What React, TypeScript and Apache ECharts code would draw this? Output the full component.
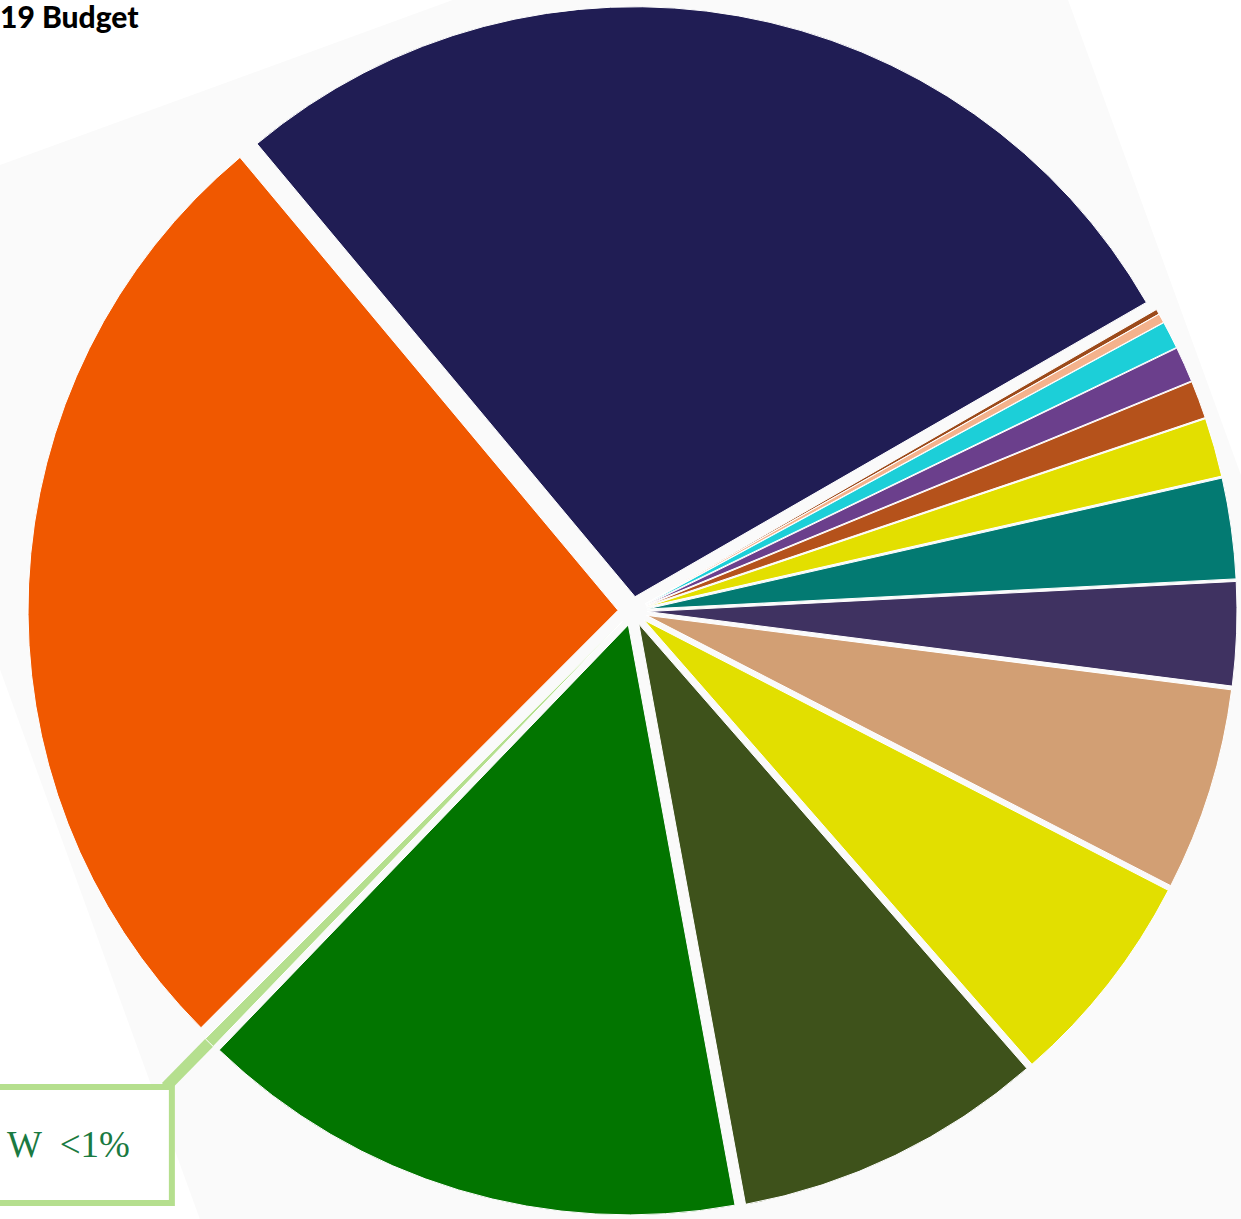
import React, { useEffect, useRef } from "react";
import * as echarts from "echarts";

const titleText = "19 Budget";
const categories = [
  "Slice A", "Slice B", "Slice C", "Slice D", "Slice E", "Slice F", "Slice G", "Slice H",
  "Slice I", "Slice J", "Slice K", "Slice L", "Slice M", "W", "Slice O",
];
const values = [27.76, 0.14, 0.25, 0.75, 0.97, 1.03, 1.61, 2.75, 2.83, 5.56, 6.0, 8.53, 15.09, 0.3, 26.44];
const colors = [
  "#201d54", "#9c4a1a", "#f4b28c", "#1ccfd8", "#6b3f8c", "#b5521b", "#e3df00", "#037a72",
  "#3f3261", "#d29f74", "#e2df00", "#3e521b", "#027500", "#b5df8e", "#f05800",
];
const labelIndex = 13;
const labelText = "W  <1%";

export default function App() {
  const ref = useRef<HTMLDivElement>(null);
  useEffect(() => {
    if (!ref.current) return;
    const chart = echarts.init(ref.current, null, { renderer: "svg" });
    const data = categories.map((name, i) => {
      const item: any = {
        name,
        value: values[i],
        selected: true,
        itemStyle: { color: colors[i] },
        label: { show: false },
        labelLine: { show: false },
      };
      if (i === labelIndex) {
        item.label = {
          show: true,
          position: "outside",
          distanceToLabelLine: -3,
          formatter: "{sp| }\n{box|" + labelText + "}",
          rich: {
            sp: { height: 116, fontSize: 2, lineHeight: 116 },
            box: {
              width: 230,
              height: 110,
              lineHeight: 110,
              align: "right",
              padding: [0, 39, 0, 0],
              borderColor: "#b5df8e",
              borderWidth: 6,
              backgroundColor: "#ffffff",
              fontFamily: "Liberation Serif",
              fontSize: 37,
              color: "#1a7a42",
            },
          },
        };
        item.labelLine = {
          show: true,
          length: 62,
          length2: 0,
          smooth: false,
          lineStyle: { color: "#b5df8e", width: 11 },
        };
      }
      return item;
    });
    chart.setOption({
      animation: false,
      backgroundColor: "#ffffff",
      title: {
        text: titleText,
        left: 0,
        top: 1,
        padding: 0,
        textStyle: { fontFamily: "Lato", fontSize: 30, fontWeight: 900, color: "#000000" },
      },
      graphic: [
        {
          type: "polygon",
          z: -10,
          silent: true,
          shape: { points: [[-162, 224], [996, -198], [1614, 1500], [302, 1500]] },
          style: { fill: "#fafafa" },
        },
      ],
      series: [
        {
          type: "pie",
          name: "budget",
          center: [632.5, 611],
          radius: [0, 590],
          startAngle: 129.85,
          clockwise: true,
          avoidLabelOverlap: false,
          selectedMode: "multiple",
          selectedOffset: 14.5,
          emphasis: { disabled: true },
          silent: true,
          itemStyle: { borderColor: "#ffffff", borderWidth: 1 },
          select: { itemStyle: { borderColor: "#ffffff", borderWidth: 1 } },
          data,
        },
      ],
    });
    return () => chart.dispose();
  }, []);
  return (
    <div
      ref={ref}
      style={{ position: "fixed", left: 0, top: 0, width: 1241, height: 1219, background: "#fff" }}
    />
  );
}
